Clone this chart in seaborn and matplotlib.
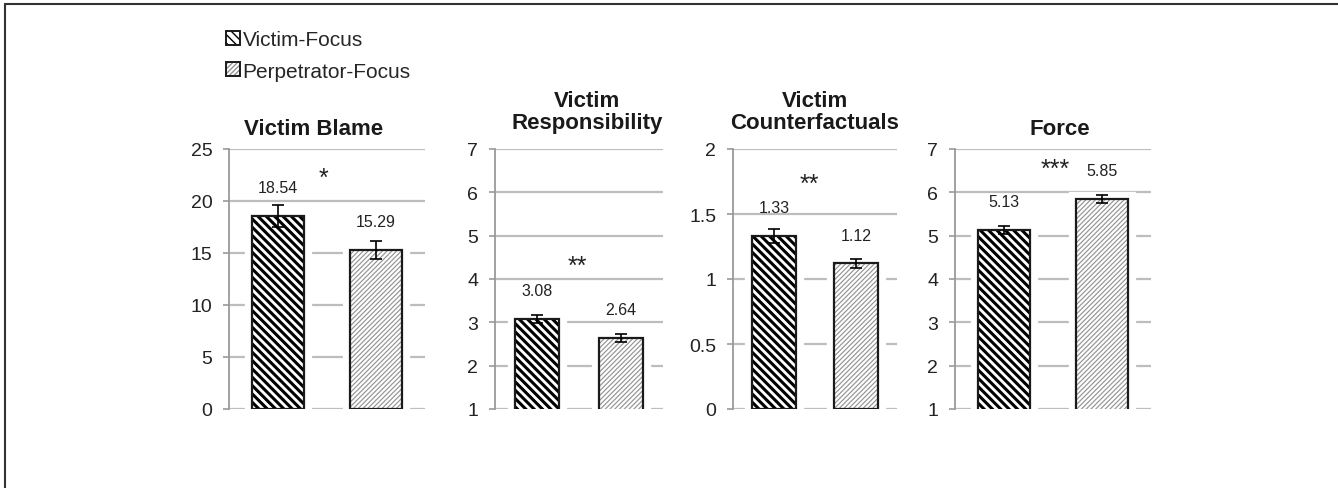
import pandas as pd
import seaborn as sns
import matplotlib.pyplot as plt
from matplotlib.patches import Patch, Rectangle
from matplotlib.lines import Line2D
from matplotlib.legend_handler import HandlerTuple
from matplotlib.ticker import MultipleLocator, FuncFormatter

# data
measures = ["Victim Blame", "Victim\nResponsibility", "Victim\nCounterfactuals", "Force"]
conditions = ["Victim-Focus", "Perpetrator-Focus"]
victim_means = [18.54, 3.08, 1.33, 5.13]
perp_means = [15.29, 2.64, 1.12, 5.85]
victim_se = [1.05, 0.10, 0.055, 0.10]
perp_se = [0.88, 0.10, 0.037, 0.09]
stars = ["*", "**", "**", "***"]
y_ranges = [(0, 25), (1, 7), (0, 2), (1, 7)]
y_steps = [5, 1, 0.5, 1]

sns.set_theme(style="white")
plt.rcParams["font.family"] = ["Liberation Sans", "DejaVu Sans"]

W, H = 1338, 489
fig = plt.figure(figsize=(W / 100, H / 100), dpi=100)

# axes boxes in pixels (left, width)
boxes = [(229, 196), (495, 168), (733, 164), (955, 196)]
title_x = [0.43, 0.55, 0.5, 0.536]
star_pos = [(0.48, 0.89), (0.49, 0.55), (0.463, 0.865), (0.51, 0.925)]

victim_hatch = "\\" * 4
perp_hatch = "/" * 7
perp_hatch_color = "#949494"

for i, m in enumerate(measures):
    left, w = boxes[i]
    ax = fig.add_axes([left / W, 79 / H, w / W, 260 / H])
    df = pd.DataFrame({"condition": conditions,
                       "mean": [victim_means[i], perp_means[i]]})
    sns.barplot(data=df, x="condition", y="mean", color="white", saturation=1,
                width=0.53, linewidth=0, ax=ax)
    ax.set_xlim(-0.5, 1.5)

    bars = ax.containers[0]
    for j, p in enumerate(bars):
        if j == 0:
            p.set_hatch(victim_hatch)
            p.set_edgecolor("black")
            if hasattr(p, "set_hatch_linewidth"):
                p.set_hatch_linewidth(2.2)
        else:
            p.set_hatch(perp_hatch)
            p.set_edgecolor(perp_hatch_color)
            if hasattr(p, "set_hatch_linewidth"):
                p.set_hatch_linewidth(0.85)
        p.set_linewidth(0)
        p.set_zorder(2)
        xy, bw, bh = p.get_xy(), p.get_width(), p.get_height()
        # white halo that breaks the gridlines around the bars
        ax.add_patch(Rectangle(xy, bw, bh, facecolor="white", edgecolor="white",
                               lw=11, zorder=1.5))
        ax.add_patch(Rectangle(xy, bw, bh, fill=False, edgecolor="#1a1a1a",
                               lw=1.6, zorder=3))

    means = [victim_means[i], perp_means[i]]
    ses = [victim_se[i], perp_se[i]]
    ax.errorbar([0, 1], means, yerr=ses, fmt="none", ecolor="black",
                elinewidth=1.2, capsize=4, capthick=1.2, zorder=4)

    ax.bar_label(bars, labels=[f"{v:.2f}" for v in means], padding=15,
                 fontsize=11.5, color="#222222")

    ax.text(star_pos[i][0], star_pos[i][1], stars[i], transform=ax.transAxes,
            ha="center", va="center", fontsize=18, color="#222222")

    ax.set_ylim(*y_ranges[i])
    ax.yaxis.set_major_locator(MultipleLocator(y_steps[i]))
    ax.yaxis.set_major_formatter(FuncFormatter(lambda v, _: f"{v:g}"))
    ax.set_axisbelow(True)
    ax.yaxis.grid(True, color="#bdbdbd", lw=1.6)
    ax.xaxis.grid(False)
    for s in ["top", "right", "bottom"]:
        ax.spines[s].set_visible(False)
    ax.spines["left"].set_color("#9a9a9a")
    ax.spines["left"].set_linewidth(1.3)
    ax.tick_params(axis="y", left=True, length=4, width=1.2, color="#9a9a9a",
                   labelsize=14, pad=8, labelcolor="#222222")
    ax.set_xticks([])
    ax.set_xlabel("")
    ax.set_ylabel("")
    two_lines = "\n" in m
    ax.set_title(m, fontsize=16, fontweight="bold", pad=15 if two_lines else 11,
                 x=title_x[i], linespacing=1.05, color="#1a1a1a")

# legend
h1 = (Patch(facecolor="white", edgecolor="black", hatch=victim_hatch, lw=0),
      Patch(facecolor="none", edgecolor="#1a1a1a", lw=1.4))
h2 = (Patch(facecolor="white", edgecolor=perp_hatch_color, hatch=perp_hatch, lw=0),
      Patch(facecolor="none", edgecolor="#1a1a1a", lw=1.4))
fig.legend([h1, h2], conditions, loc="upper left",
           bbox_to_anchor=(226 / W, 1 - 31 / H), frameon=False, fontsize=15,
           handlelength=0.65, handleheight=0.65, handletextpad=0.15,
           labelspacing=0.6, borderaxespad=0, borderpad=0,
           handler_map={tuple: HandlerTuple(ndivide=1)})

# frame lines at the top and left edge
fig.add_artist(Line2D([5 / W, 1], [1 - 5 / H, 1 - 5 / H], transform=fig.transFigure,
                      color="#333333", lw=1.5))
fig.add_artist(Line2D([5 / W, 5 / W], [0, 1 - 5 / H], transform=fig.transFigure,
                      color="#333333", lw=1.5))

fig.savefig("out.png", dpi=100, facecolor="white")
